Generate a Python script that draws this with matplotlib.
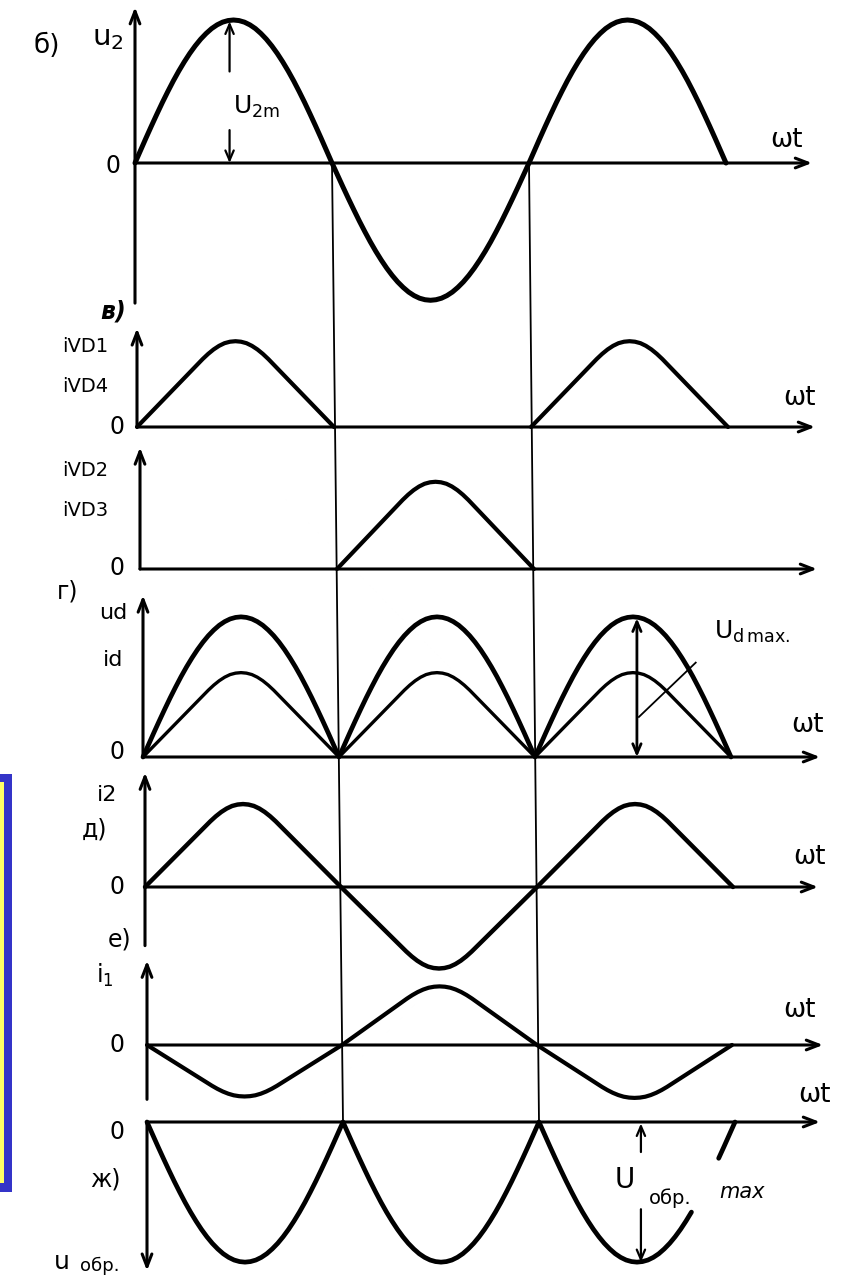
import numpy as np
import matplotlib
matplotlib.use("Agg")
import matplotlib.pyplot as plt
from matplotlib.patches import Rectangle, ConnectionPatch

W, H = 856, 1283
SY = 143.0  # px per amplitude unit

# rising half of each hump in 5 deg steps (0..90 deg)
sine_rise = [0, .087, .174, .259, .342, .423, .500, .574, .643, .707,
             .766, .819, .866, .906, .940, .966, .985, .996, 1.0]
tri_rise = [0, .066, .132, .198, .264, .330, .396, .462, .528, .594,
            .660, .726, .792, .852, .904, .946, .977, .994, 1.0]
# humps are symmetric: mirror the rising half
sine_half = sine_rise + sine_rise[-2::-1]
tri_half = tri_rise + tri_rise[-2::-1]

# signed peak value of each half period (0 = diode not conducting)
u2_amp = [1.0, -0.96, 1.0]
ivd14_amp = [0.60, 0, 0.60]
ivd23_amp = [0, 0.61, 0]
ud_amp = [0.98, 0.98, 0.98]
id_amp = [0.59, 0.59, 0.59]
i2_amp = [0.58, -0.57, 0.58]
i1_amp = [-0.36, 0.41, -0.37]
uobr_amp = [-0.98, -0.98, -0.98]
uobr_gap = [(2, j) for j in (29, 30, 31, 32)]  # left out of last hump for label


def wave(amps, shape, skip=()):
    xs, ys = [], []
    for k, a in enumerate(amps):
        x = np.linspace(k, k + 1, len(shape))
        y = a * np.array(shape, dtype=float)
        if a == 0:
            y[:] = np.nan
        for (kk, j) in skip:
            if kk == k:
                y[j] = np.nan
        xs.append(x)
        ys.append(y)
    return np.concatenate(xs), np.concatenate(ys)


fig = plt.figure(figsize=(W / 100, H / 100), dpi=100)
base = fig.add_axes([0, 0, 1, 1])
base.set_xlim(0, W)
base.set_ylim(H, 0)
base.axis("off")

# cut-off box at the left edge
base.add_patch(Rectangle((-20, 774), 32, 418, facecolor="#3434c8", edgecolor="none"))
base.add_patch(Rectangle((-20, 782), 24, 401, facecolor="#ffff66", edgecolor="none"))


def panel(x0, y0, sx):
    ax = fig.add_axes([0, 0, 1, 1])
    ax.set_xlim(-x0 / sx, (W - x0) / sx)
    ax.set_ylim(-(H - y0) / SY, y0 / SY)
    ax.axis("off")
    return ax


ARR = dict(arrowstyle="->,head_length=0.9,head_width=0.35", lw=2.2, color="k",
           shrinkA=0, shrinkB=0)
SARR = dict(arrowstyle="->,head_length=0.7,head_width=0.3", lw=1.6, color="k",
            shrinkA=0, shrinkB=0)


def axes_arrows(ax, top, bottom, xend, down=False):
    if down:
        ax.annotate("", xy=(0, bottom), xytext=(0, 0), arrowprops=ARR)
    else:
        ax.annotate("", xy=(0, top), xytext=(0, bottom), arrowprops=ARR)
    ax.annotate("", xy=(xend, 0), xytext=(0, 0), arrowprops=ARR)


# б) u2
a1 = panel(135, 163, 197)
axes_arrows(a1, 1.09, -0.98, (812 - 135) / 197)
x, y = wave(u2_amp, sine_half)
a1.plot(x, y, color="k", lw=3.6, solid_capstyle="round")
a1.annotate("", xy=(0.48, 0.99), xytext=(0.48, 0.64), arrowprops=SARR)
a1.annotate("", xy=(0.48, 0.0), xytext=(0.48, 0.23), arrowprops=SARR)

# в) iVD1, iVD4
a2 = panel(137, 427, 197)
axes_arrows(a2, 0.69, 0, (815 - 137) / 197)
x, y = wave(ivd14_amp, tri_half)
a2.plot(x, y, color="k", lw=3.0, solid_capstyle="round")

# iVD2, iVD3
a3 = panel(140, 569, 197)
axes_arrows(a3, 0.85, 0, (817 - 140) / 197)
x, y = wave(ivd23_amp, tri_half)
a3.plot(x, y, color="k", lw=3.0, solid_capstyle="round")

# г) ud, id
a4 = panel(143, 757, 196)
axes_arrows(a4, 1.13, 0, (820 - 143) / 196)
x, y = wave(ud_amp, sine_half)
a4.plot(x, y, color="k", lw=3.4, solid_capstyle="round")
x, y = wave(id_amp, tri_half)
a4.plot(x, y, color="k", lw=2.4, solid_capstyle="round")
a4.annotate("", xy=(2.52, 0.97), xytext=(2.52, 0.0),
            arrowprops=dict(arrowstyle="<->,head_length=0.7,head_width=0.3",
                            lw=2.0, color="k", shrinkA=0, shrinkB=0))
a4.plot([2.53, 2.82], [0.28, 0.66], color="k", lw=1.3)

# д) i2
a5 = panel(145, 887, 196)
axes_arrows(a5, 0.80, -0.41, (818 - 145) / 196)
x, y = wave(i2_amp, tri_half)
a5.plot(x, y, color="k", lw=3.2, solid_capstyle="round")

# е) i1
a6 = panel(147, 1045, 195)
axes_arrows(a6, 0.59, -0.38, (823 - 147) / 195)
x, y = wave(i1_amp, tri_half)
a6.plot(x, y, color="k", lw=3.0, solid_capstyle="round")

# ж) u_obr
a7 = panel(147, 1122, 196)
axes_arrows(a7, 0, -1.04, (820 - 147) / 196, down=True)
x, y = wave(uobr_amp, sine_half, skip=uobr_gap)
a7.plot(x, y, color="k", lw=3.4, solid_capstyle="round")
a7.annotate("", xy=(2.52, -0.01), xytext=(2.52, -0.21), arrowprops=SARR)
a7.annotate("", xy=(2.52, -0.98), xytext=(2.52, -0.61), arrowprops=SARR)

# thin guide lines at pi and 2pi through all panels
for xv in (1, 2):
    con = ConnectionPatch(xyA=(xv, 0), coordsA=a1.transData,
                          xyB=(xv, 0), coordsB=a7.transData,
                          color="k", lw=1.3)
    fig.add_artist(con)


def t(x, y, s, size=17, **kw):
    base.text(x, y, s, fontsize=size, ha="center", va="center",
              family="DejaVu Sans", **kw)


# labels
t(47, 46, "б)", 19)
t(108, 38, r"u$_2$", 21)
t(113, 166, "0", 17)
t(256, 107, r"U$_{\mathrm{2m}}$", 18)
t(787, 140, "ωt", 19)

t(113, 312, "в)", 17, style="italic", weight="bold")
t(85, 347, "iVD1", 14)
t(85, 386, "iVD4", 14)
t(117, 427, "0", 17)
t(800, 398, "ωt", 19)

t(85, 470, "iVD2", 14)
t(85, 510, "iVD3", 14)
t(117, 568, "0", 17)
t(68, 592, "г)", 17)

t(113, 613, "ud", 16)
t(113, 660, "id", 16)
t(117, 752, "0", 17)
t(752, 632, r"U$_{\mathrm{d\,max.}}$", 18)
t(808, 725, "ωt", 19)

t(107, 795, "i2", 16)
t(95, 830, "д)", 17)
t(117, 887, "0", 17)
t(810, 857, "ωt", 19)

t(120, 940, "е)", 17)
t(105, 975, r"i$_1$", 17)
t(117, 1045, "0", 17)
t(800, 1010, "ωt", 19)

t(815, 1095, "ωt", 19)
t(117, 1132, "0", 17)
t(105, 1180, "ж)", 17)
t(62, 1262, "u", 18)
t(100, 1266, "обр.", 13)
t(625, 1180, "U", 20)
t(670, 1198, "обр.", 14)
t(742, 1192, "max", 15, style="italic")

fig.savefig("out.png", dpi=100)
